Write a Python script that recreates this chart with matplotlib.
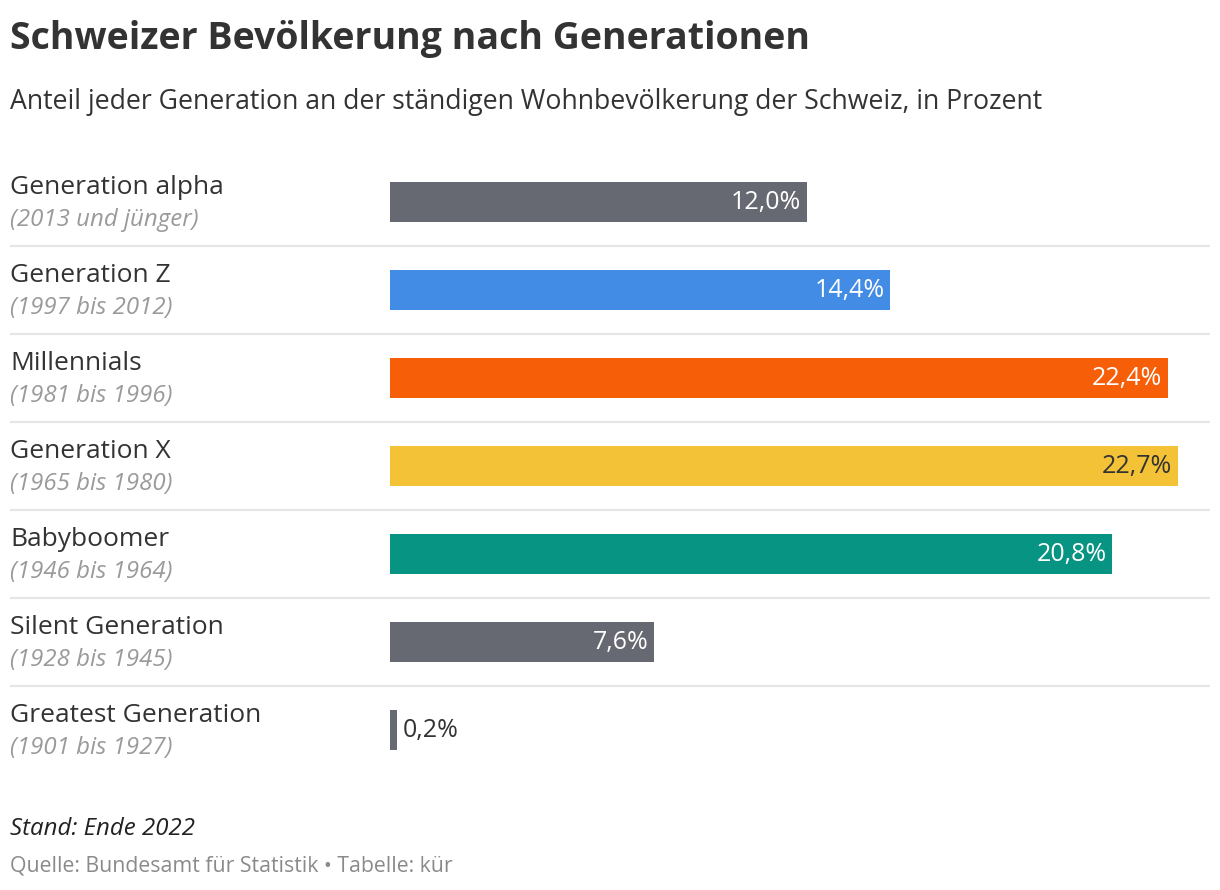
import matplotlib.pyplot as plt
import matplotlib.transforms as mtransforms

plt.rcParams['font.family'] = ['Open Sans', 'DejaVu Sans']

# data
generations = ["Generation alpha", "Generation Z", "Millennials", "Generation X",
               "Babyboomer", "Silent Generation", "Greatest Generation"]
years = ["(2013 und jünger)", "(1997 bis 2012)", "(1981 bis 1996)", "(1965 bis 1980)",
         "(1946 bis 1964)", "(1928 bis 1945)", "(1901 bis 1927)"]
shares = [12.0, 14.4, 22.4, 22.7, 20.8, 7.6, 0.2]
bar_colors = ["#676972", "#428ce6", "#f75e08", "#f3c237", "#079483", "#676972", "#676972"]
label_colors = ["white", "white", "white", "#333333", "white", "white", "#333333"]

W, H = 1220, 890
fig = plt.figure(figsize=(W / 100, H / 100), dpi=100)

# axes spans label column + bar column; bar zero sits at x=390px
px_per_unit = (1178 - 390) / 22.7
ax_left, ax_right = 10, 1210
ax_top, ax_bottom = 158, 774
ax = fig.add_axes([ax_left / W, 1 - ax_bottom / H,
                   (ax_right - ax_left) / W, (ax_bottom - ax_top) / H])
ax.set_xlim(-(390 - ax_left) / px_per_unit, (ax_right - 390) / px_per_unit)
ax.set_ylim(len(shares) - 0.5, -0.5)
ax.axis("off")

rows = range(len(shares))
ax.barh(list(rows), shares, height=40 / 88, color=bar_colors, left=0)

# separators between rows
for i in rows:
    if i < len(shares) - 1:
        ax.axhline(i + 0.5, color="#e6e6e6", lw=1.5, xmin=0, xmax=1)

trans = mtransforms.blended_transform_factory(ax.transAxes, ax.transData)
for i, (name, yr, val, lc) in enumerate(zip(generations, years, shares, label_colors)):
    ax.annotate(name, (0, i), xycoords=trans, xytext=(0, 10.5), textcoords="offset points",
                ha="left", va="center", fontsize=19, color="#333333")
    ax.annotate(yr, (0, i), xycoords=trans, xytext=(0, -13), textcoords="offset points",
                ha="left", va="center", fontsize=17.3, color="#9a9a9a", style="italic")
    txt = f"{val:.1f}%".replace(".", ",")
    if val > 2:
        ax.annotate(txt, (val, i), xytext=(-4, -0.5), textcoords="offset points",
                    ha="right", va="center", fontsize=18, color=lc)
    else:
        ax.annotate(txt, (val, i), xytext=(4.5, -0.5), textcoords="offset points",
                    ha="left", va="center", fontsize=18, color=lc)

fig.text(10 / W, 1 - 39 / H, "Schweizer Bevölkerung nach Generationen",
         fontsize=27, fontweight="bold", color="#333333", ha="left", va="center")
fig.text(10 / W, 1 - 102 / H,
         "Anteil jeder Generation an der ständigen Wohnbevölkerung der Schweiz, in Prozent",
         fontsize=19.2, color="#333333", ha="left", va="center")
fig.text(10 / W, 1 - 829 / H, "Stand: Ende 2022", fontsize=17.3, style="italic",
         color="#222222", ha="left", va="center")
fig.text(10 / W, 1 - 866 / H, "Quelle: Bundesamt für Statistik • Tabelle: kür",
         fontsize=15.3, color="#8a8a8a", ha="left", va="center")

fig.savefig("out.png", dpi=100, facecolor="white")
